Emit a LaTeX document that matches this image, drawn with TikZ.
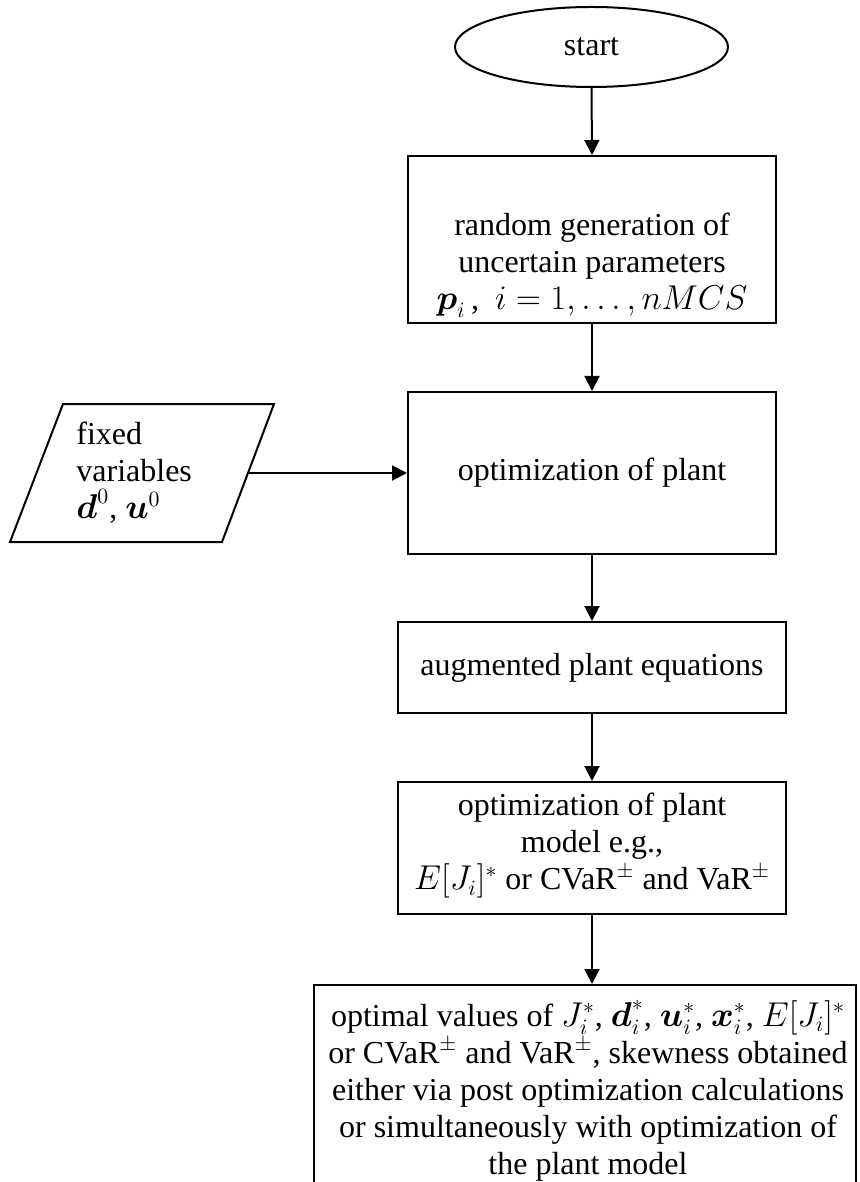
\documentclass[tikz,border=0pt]{standalone}
\usepackage{amsmath}
\usepackage{fontspec}
\setmainfont{Liberation Serif}
\usetikzlibrary{shapes.geometric,arrows.meta}

% text size with even line spacing
\newcommand\chartfont{\fontsize{16bp}{18.5bp}\selectfont\lineskiplimit=-20pt\relax}

\begin{document}
\begin{tikzpicture}[
  x=0.5bp, y=-0.5bp,
  every node/.style={font=\chartfont},
  box/.style={draw, line width=1bp, rectangle, inner sep=0pt},
  txt/.style={inner sep=0pt, align=center},
  flow/.style={line width=1bp, -{Triangle[length=7.5bp,width=7.5bp]}},
]
% page frame
\path[use as bounding box, clip] (0,0) rectangle (859,1182);

% terminal
\node[draw, line width=1bp, ellipse, minimum width=136.5bp, minimum height=40bp,
      inner sep=0pt] (start) at (591.5,47) {start};

% process boxes
\node[box, minimum width=184bp, minimum height=83.5bp] (gen) at (592,239.5) {};
\node[txt] (gentxt) at (592,265)
  {random generation of\\uncertain parameters\\
   $\boldsymbol{p}_i$\,,\ \ $i=1,\ldots,nMCS$};

\node[box, minimum width=184bp, minimum height=81bp] (opt) at (592,473)
  {optimization of plant};

\node[box, minimum width=194bp, minimum height=45.5bp] (aug) at (592,667.5)
  {augmented plant equations};

\node[box, minimum width=194bp, minimum height=66bp] (model) at (592,848) {};
\node[txt] (modeltxt) at (592,846)
  {optimization of plant\\model e.g.,\\
   $E[J_i]^*$ or CVaR$^{\pm}$ and VaR$^{\pm}$};

\node[box, minimum width=271bp, minimum height=112.5bp] (res) at (585,1097.5) {};
\node[txt, anchor=north] (restxt) at (588,1000)
  {optimal values of $J_i^*$, $\boldsymbol{d}_i^*$, $\boldsymbol{u}_i^*$,
   $\boldsymbol{x}_i^*$, $E[J_i]^*$\\
   or CVaR$^{\pm}$ and VaR$^{\pm}$, skewness obtained\\
   either via post optimization calculations\\
   or simultaneously with optimization of\\
   the plant model};

% input parallelogram
\draw[line width=1bp] (63,404) -- (274,404) -- (222,542) -- (10,542) -- cycle;
\coordinate (inright) at (248,473);
\node[inner sep=0pt, align=left, anchor=west] (intxt) at (76,473)
  {fixed\\variables\\$\boldsymbol{d}^0$, $\boldsymbol{u}^0$};

% connectors
\draw[flow] (start.south) -- (gen.north);
\draw[flow] (gen.south) -- (opt.north);
\draw[flow] (opt.south) -- (aug.north);
\draw[flow] (aug.south) -- (model.north);
\draw[flow] (model.south) -- (model.south |- res.north);
\draw[flow] (inright) -- (opt.west);
\end{tikzpicture}
\end{document}
